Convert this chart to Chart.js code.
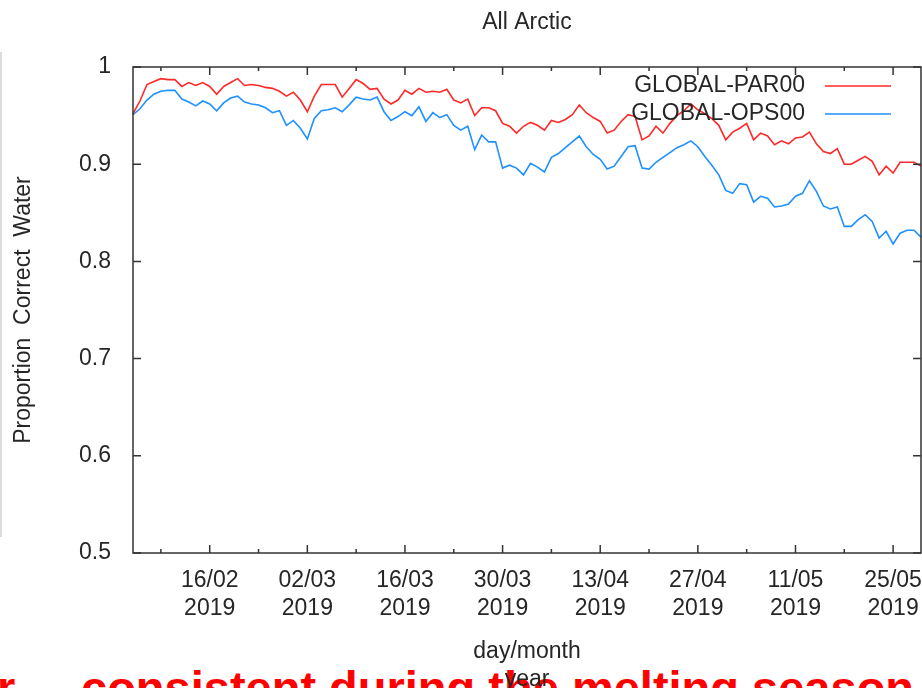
<!DOCTYPE html>
<html>
<head>
<meta charset="utf-8">
<script src="https://cdn.jsdelivr.net/npm/chart.js@4"></script>
<style>
  html, body { margin: 0; padding: 0; background: #fff; overflow: hidden; }
  #wrap { position: relative; width: 922px; height: 688px; }
  #wrap canvas { position: relative; z-index: 1; }
  #edge { position: absolute; left: 0; top: 52px; width: 2px; height: 485px; background: #dcdcdc; }
  .note { position: absolute; z-index: 0; top: 664px; white-space: pre; font: bold 47px "Liberation Sans", Arial, sans-serif; line-height: 47px; color: #f00; }
</style>
</head>
<body>
<div id="wrap">
  <div class="note" style="left:-3px">r</div>
  <div class="note" style="left:81px">consistent during the melting season</div>
  <div id="edge"></div>
  <canvas id="chart"></canvas>
</div>
<script>
// daily values, 05/02/2019 .. 29/05/2019
const parValues = [
  0.952, 0.965, 0.982, 0.985, 0.988, 0.987, 0.987, 0.980, 0.984, 0.981,
  0.984, 0.980, 0.972, 0.980, 0.984, 0.988, 0.981, 0.982, 0.981, 0.979,
  0.978, 0.975, 0.970, 0.974, 0.966, 0.954, 0.970, 0.982, 0.982, 0.982,
  0.969, 0.978, 0.987, 0.983, 0.977, 0.978, 0.967, 0.962, 0.966, 0.976,
  0.972, 0.978, 0.974, 0.975, 0.974, 0.977, 0.966, 0.963, 0.967, 0.950,
  0.958, 0.958, 0.955, 0.942, 0.939, 0.932, 0.939, 0.943, 0.940, 0.935,
  0.945, 0.943, 0.946, 0.951, 0.961, 0.953, 0.948, 0.944, 0.932, 0.935,
  0.944, 0.951, 0.949, 0.925, 0.929, 0.939, 0.932, 0.942, 0.950, 0.955,
  0.962, 0.956, 0.952, 0.947, 0.940, 0.925, 0.933, 0.937, 0.942, 0.925,
  0.932, 0.929, 0.920, 0.924, 0.921, 0.927, 0.928, 0.933, 0.921, 0.913,
  0.911, 0.916, 0.900, 0.900, 0.904, 0.908, 0.903, 0.889, 0.898, 0.891,
  0.902, 0.902, 0.902, 0.898
];
const opsValues = [
  0.951, 0.957, 0.966, 0.972, 0.975, 0.976, 0.976, 0.967, 0.964, 0.960,
  0.965, 0.962, 0.955, 0.963, 0.968, 0.970, 0.964, 0.962, 0.961, 0.958,
  0.953, 0.955, 0.940, 0.945, 0.937, 0.926, 0.947, 0.955, 0.956, 0.958,
  0.954, 0.961, 0.969, 0.967, 0.966, 0.969, 0.954, 0.945, 0.949, 0.954,
  0.950, 0.959, 0.944, 0.953, 0.948, 0.951, 0.940, 0.935, 0.939, 0.915,
  0.930, 0.923, 0.923, 0.896, 0.899, 0.896, 0.889, 0.901, 0.897, 0.892,
  0.907, 0.911, 0.917, 0.923, 0.929, 0.918, 0.910, 0.905, 0.895, 0.898,
  0.908, 0.918, 0.919, 0.896, 0.895, 0.902, 0.907, 0.912, 0.917, 0.920,
  0.924, 0.918, 0.908, 0.899, 0.889, 0.873, 0.870, 0.880, 0.879, 0.861,
  0.867, 0.865, 0.856, 0.857, 0.859, 0.867, 0.870, 0.883, 0.872, 0.857,
  0.854, 0.856, 0.836, 0.836, 0.843, 0.848, 0.841, 0.824, 0.831, 0.818,
  0.829, 0.832, 0.832, 0.825
];
const seriesNames = ['GLOBAL-PAR00', 'GLOBAL-OPS00'];
const yearLabel = '2019';

// one category per day, shown as day/month
const startDay = Date.UTC(2019, 1, 5);
const days = parValues.map((_, i) => {
  const d = new Date(startDay + i * 864e5);
  return String(d.getUTCDate()).padStart(2, '0') + '/' + String(d.getUTCMonth() + 1).padStart(2, '0');
});
// weekly ticks, labelled every second week
const tickIdx = days.map((_, i) => i).filter(i => (i - 4) % 7 === 0);
const isMajor = i => (i - 11) % 14 === 0;

const FONT = '"Liberation Sans", Arial, sans-serif';
const INK = '#262626';
Chart.defaults.font.family = FONT;
Chart.defaults.font.size = 23;
Chart.defaults.color = INK;

// gnuplot style frame, inward ticks and legend
const framePlugin = {
  id: 'frame',
  afterDatasetsDraw(chart) {
    const { ctx, chartArea: a, scales: { x, y } } = chart;
    ctx.save();
    ctx.strokeStyle = '#333';
    ctx.lineWidth = 1.5;
    ctx.strokeRect(a.left, a.top, a.right - a.left, a.bottom - a.top);
    ctx.beginPath();
    x.ticks.forEach(t => {
      const px = x.getPixelForValue(t.value);
      const len = isMajor(t.value) ? 8 : 4;
      ctx.moveTo(px, a.bottom); ctx.lineTo(px, a.bottom - len);
      ctx.moveTo(px, a.top); ctx.lineTo(px, a.top + len);
    });
    y.ticks.forEach(t => {
      const py = y.getPixelForValue(t.value);
      ctx.moveTo(a.left, py); ctx.lineTo(a.left + 8, py);
      ctx.moveTo(a.right, py); ctx.lineTo(a.right - 8, py);
    });
    ctx.stroke();

    ctx.font = '23px ' + FONT;
    ctx.textAlign = 'right';
    ctx.textBaseline = 'middle';
    chart.data.datasets.forEach((ds, k) => {
      const ly = a.top + 19 + k * 28;
      ctx.fillStyle = INK;
      ctx.fillText(ds.label, a.right - 116, ly);
      ctx.strokeStyle = ds.borderColor;
      ctx.lineWidth = 1.6;
      ctx.beginPath();
      ctx.moveTo(a.right - 96, ly);
      ctx.lineTo(a.right - 30, ly);
      ctx.stroke();
    });
    ctx.restore();
  }
};

new Chart(document.getElementById('chart'), {
  type: 'line',
  data: {
    labels: days,
    datasets: [
      { label: seriesNames[0], data: parValues, borderColor: 'rgb(255,40,40)' },
      { label: seriesNames[1], data: opsValues, borderColor: 'rgb(30,144,255)' }
    ]
  },
  options: {
    responsive: true,
    maintainAspectRatio: false,
    animation: false,
    layout: { padding: { left: 0, right: 1, top: 0, bottom: 0 } },
    elements: {
      point: { radius: 0 },
      line: { borderWidth: 1.6, tension: 0 }
    },
    plugins: {
      legend: { display: false },
      tooltip: { enabled: false },
      title: {
        display: true,
        text: 'All Arctic',
        fullSize: false,
        color: INK,
        font: { size: 23, weight: 'normal' },
        padding: { top: 9, bottom: 30.4 }
      }
    },
    scales: {
      x: {
        offset: false,
        grid: { display: false, drawTicks: false },
        border: { display: false },
        afterBuildTicks: s => { s.ticks = tickIdx.map(v => ({ value: v })); },
        afterFit: s => { s.height = 135; s.paddingLeft = 0; s.paddingRight = 0; },
        ticks: {
          autoSkip: false,
          maxRotation: 0,
          padding: 14,
          callback: function (v) {
            return isMajor(v) ? [days[v], yearLabel] : '';
          }
        },
        title: {
          display: true,
          text: ['day/month', 'year'],
          padding: { top: 0, bottom: -5 }
        }
      },
      y: {
        min: 0.5,
        max: 1,
        grid: { display: false, drawTicks: false },
        border: { display: false },
        afterFit: s => { s.width = 133; },
        ticks: {
          stepSize: 0.1,
          padding: 22,
          callback: v => String(+v.toFixed(1))
        },
        title: {
          display: true,
          text: 'Proportion  Correct  Water',
          padding: { top: 10, bottom: 0 }
        }
      }
    }
  },
  plugins: [framePlugin]
});
</script>
</body>
</html>
